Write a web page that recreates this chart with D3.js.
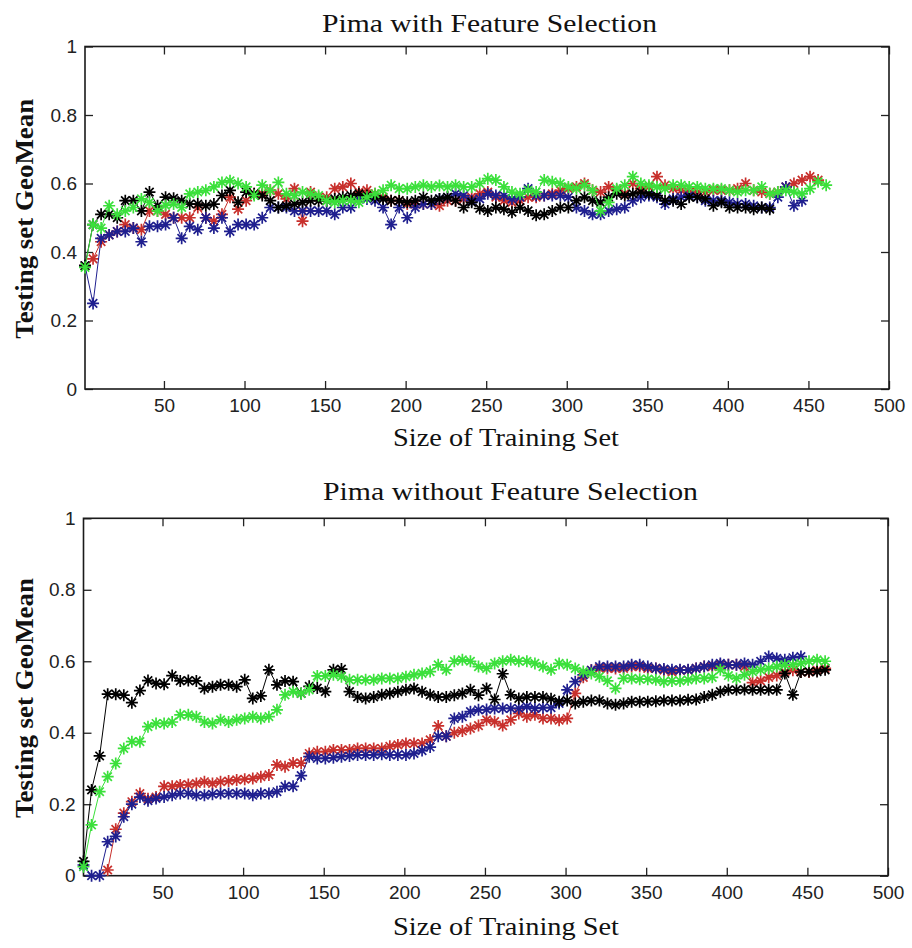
<!DOCTYPE html>
<html>
<head>
<meta charset="utf-8">
<script src="https://cdn.jsdelivr.net/npm/d3@7"></script>
<style>
  body { margin: 0; background: #fff; }
  .tick text { font-family: "Liberation Sans", Arial, sans-serif; font-size: 19px; fill: #222; }
</style>
</head>
<body>
<div id="chart"></div>
<script>
// training set sizes (x of every marker)
var trainSize = [1,6,11,16,21,26,31,36,41,46,51,56,61,66,71,76,81,86,91,96,101,106,111,116,121,126,131,136,141,146,
  151,156,161,166,171,176,181,186,191,196,201,206,211,216,221,226,231,236,241,246,251,256,261,266,271,276,281,286,291,296,
  301,306,311,316,321,326,331,336,341,346,351,356,361,366,371,376,381,386,391,396,401,406,411,416,421,426,431,436,441,446,
  451,456,461];

var xTicks = [50,100,150,200,250,300,350,400,450,500];
var yTicks = [0,0.2,0.4,0.6,0.8,1];

// Pima with Feature Selection
var fsBlue = [.36,.25,.44,.45,.46,.46,.47,.43,.475,.475,.48,.50,.44,.475,.465,.50,.47,.50,.46,.48,
  .48,.48,.50,.53,.53,.53,.52,.52,.52,.52,.52,.51,.53,.53,.555,.555,.55,.53,.48,.53,
  .50,.53,.54,.54,.555,.56,.57,.565,.55,.555,.57,.565,.565,.555,.56,.585,.565,.565,.565,.565,
  .56,.53,.52,.51,.51,.52,.525,.53,.55,.56,.565,.56,.54,.555,.56,.565,.56,.55,.55,.55,
  .545,.54,.54,.535,.53,.53,.56,.59,.535,.55];
var fsRed = [.36,.38,.43,.45,.46,.48,.47,.465,.52,.52,.51,.50,.50,.50,.53,.50,.49,.51,.56,.525,
  .55,.57,.57,.58,.57,.555,.585,.49,.575,.56,.56,.585,.59,.60,.575,.58,.57,.56,.55,.55,
  .54,.54,.54,.54,.535,.55,.55,.555,.56,.57,.575,.56,.55,.545,.55,.56,.56,.565,.57,.58,
  .585,.59,.60,.58,.575,.59,.58,.57,.60,.585,.59,.62,.595,.585,.58,.575,.575,.575,.58,.58,
  .58,.585,.60,.58,.575,.57,.575,.59,.60,.61,.62,.61];
var fsBlack = [.36,.48,.51,.51,.50,.55,.55,.52,.575,.535,.56,.557,.55,.54,.54,.535,.54,.565,.58,.545,
  .575,.57,.565,.55,.53,.535,.54,.545,.55,.55,.55,.555,.56,.565,.57,.565,.56,.555,.55,.55,
  .545,.55,.56,.55,.555,.56,.55,.53,.545,.527,.52,.53,.525,.516,.53,.52,.507,.51,.52,.53,
  .53,.55,.56,.55,.545,.56,.57,.565,.57,.575,.57,.565,.55,.55,.54,.56,.56,.555,.535,.545,
  .53,.53,.53,.525,.53,.525];
var fsGreen = [.355,.48,.47,.535,.51,.52,.53,.555,.545,.52,.536,.54,.53,.57,.575,.58,.59,.603,.608,.60,
  .59,.565,.595,.58,.603,.57,.565,.575,.57,.565,.55,.545,.55,.55,.545,.56,.57,.58,.595,.585,
  .585,.59,.595,.59,.594,.59,.595,.59,.59,.60,.614,.61,.59,.575,.57,.58,.575,.61,.605,.60,
  .59,.585,.595,.58,.52,.545,.585,.595,.62,.60,.595,.59,.585,.595,.595,.59,.59,.585,.585,.585,
  .58,.575,.58,.58,.59,.57,.575,.58,.575,.57,.585,.605,.595];

// Pima without Feature Selection
var noBlue = [.03,0,0,.095,.11,.165,.20,.22,.21,.216,.22,.225,.23,.23,.225,.225,.228,.23,.23,.23,
  .23,.225,.23,.23,.235,.25,.25,.28,.333,.328,.328,.33,.333,.335,.338,.338,.338,.34,.338,.338,
  .338,.342,.35,.36,.39,.39,.44,.445,.459,.464,.465,.468,.468,.468,.468,.473,.468,.47,.47,.482,
  .52,.543,.562,.575,.585,.585,.585,.585,.59,.59,.585,.58,.578,.576,.576,.576,.58,.585,.59,.594,
  .59,.59,.594,.59,.60,.613,.608,.604,.61,.613];
var noRed = [null,null,null,.016,.13,.175,.207,.23,.215,.22,.25,.25,.254,.255,.258,.263,.258,.263,.265,.268,
  .27,.272,.277,.282,.31,.305,.315,.315,.342,.347,.347,.352,.352,.352,.356,.356,.356,.356,.362,.366,
  .37,.37,.37,.38,.419,.39,.40,.405,.412,.42,.436,.431,.42,.436,.454,.445,.45,.44,.44,.435,
  .44,.51,.555,.575,.58,.58,.58,.58,.585,.585,.58,.58,.575,.57,.575,.575,.58,.585,.585,.59,
  .59,.59,.585,.54,.545,.555,.56,.57,.575,.57,.57,.575,.58];
var noBlack = [.04,.24,.335,.508,.508,.505,.484,.518,.546,.538,.536,.56,.545,.546,.545,.524,.529,.534,.534,.529,
  .548,.496,.503,.576,.534,.545,.543,.51,.53,.525,.515,.576,.578,.515,.50,.496,.50,.506,.51,.515,
  .52,.524,.515,.506,.50,.50,.505,.51,.52,.505,.524,.493,.565,.506,.496,.50,.50,.50,.495,.487,
  .49,.482,.487,.49,.49,.482,.478,.482,.487,.487,.487,.488,.49,.49,.49,.492,.493,.50,.506,.515,
  .52,.52,.521,.52,.52,.52,.52,.566,.506,.57,.571,.571,.576];
var noGreen = [.025,.142,.235,.277,.314,.356,.375,.375,.417,.426,.426,.43,.45,.45,.445,.43,.426,.436,.43,.436,
  .44,.445,.44,.445,.464,.506,.515,.51,.52,.559,.559,.562,.557,.548,.548,.548,.548,.552,.552,.552,
  .557,.562,.566,.571,.59,.576,.60,.604,.60,.585,.58,.594,.60,.604,.60,.60,.594,.585,.576,.594,
  .59,.58,.571,.566,.557,.545,.524,.552,.552,.55,.55,.548,.543,.545,.545,.548,.552,.552,.555,.576,
  .56,.552,.562,.571,.576,.58,.585,.59,.59,.594,.60,.604,.60];

var colors = { blue: "#1f1f8f", red: "#c8302c", black: "#000000", green: "#3be03b" };

var panels = [
  { title: "Pima with Feature Selection", titleX: 322, titleLen: 335, titleY: 32,
    left: 85, right: 889, top: 46.5, bottom: 389, xLabelY: 446,
    series: [[fsRed, colors.red], [fsBlue, colors.blue], [fsBlack, colors.black], [fsGreen, colors.green]] },
  { title: "Pima without Feature Selection", titleX: 323, titleLen: 375, titleY: 500,
    left: 83.5, right: 888, top: 518.3, bottom: 875.7, xLabelY: 935,
    series: [[noRed, colors.red], [noBlue, colors.blue], [noBlack, colors.black], [noGreen, colors.green]] }
];

var svg = d3.select("#chart").append("svg")
  .attr("width", 912)
  .attr("height", 948)
  .style("background", "#fff");

var serif = "'Liberation Serif', 'Times New Roman', serif";
// MATLAB style '*' marker
var star = "M-6,0H6M0,-6V6M-4.2,-4.2L4.2,4.2M-4.2,4.2L4.2,-4.2";

panels.forEach(function (p) {
  var x = d3.scaleLinear().domain([1, 500]).range([p.left, p.right]);
  var y = d3.scaleLinear().domain([0, 1]).range([p.bottom, p.top]);

  // axes, ticks pointing inwards on all four sides
  var g = svg.append("g");
  g.append("g")
    .attr("transform", "translate(0," + p.bottom + ")")
    .call(d3.axisBottom(x).tickValues(xTicks).tickSizeInner(-8).tickSizeOuter(0).tickPadding(10));
  g.append("g")
    .attr("transform", "translate(0," + p.top + ")")
    .call(d3.axisTop(x).tickValues(xTicks).tickSizeInner(-8).tickSizeOuter(0).tickFormat(""));
  g.append("g")
    .attr("transform", "translate(" + p.left + ",0)")
    .call(d3.axisLeft(y).tickValues(yTicks).tickSizeInner(-8).tickSizeOuter(0).tickPadding(8).tickFormat(d3.format("~g")));
  g.append("g")
    .attr("transform", "translate(" + p.right + ",0)")
    .call(d3.axisRight(y).tickValues(yTicks).tickSizeInner(-8).tickSizeOuter(0).tickFormat(""));
  g.selectAll(".domain").remove();
  g.selectAll(".tick line").attr("stroke", "#222").attr("stroke-width", 1.3);

  svg.append("rect")
    .attr("x", p.left).attr("y", p.top)
    .attr("width", p.right - p.left).attr("height", p.bottom - p.top)
    .attr("fill", "none").attr("stroke", "#1a1a1a").attr("stroke-width", 1.6);

  // series: thin line plus asterisk markers
  p.series.forEach(function (s) {
    var vals = s[0], col = s[1];
    var pts = vals.map(function (v, i) { return { x: trainSize[i], v: v }; })
      .filter(function (d) { return d.v !== null; });

    svg.append("path")
      .datum(pts)
      .attr("fill", "none")
      .attr("stroke", col)
      .attr("stroke-width", 1)
      .attr("d", d3.line().x(function (d) { return x(d.x); }).y(function (d) { return y(d.v); }));

    svg.append("g").selectAll("path")
      .data(pts)
      .join("path")
      .attr("transform", function (d) { return "translate(" + x(d.x) + "," + y(d.v) + ")"; })
      .attr("d", star)
      .attr("stroke", col)
      .attr("stroke-width", 1.7)
      .attr("fill", "none");
  });

  svg.append("text")
    .attr("x", p.titleX).attr("y", p.titleY)
    .attr("textLength", p.titleLen).attr("lengthAdjust", "spacingAndGlyphs")
    .style("font-family", serif).style("font-size", "26px").style("fill", "#111")
    .text(p.title);

  svg.append("text")
    .attr("x", 393).attr("y", p.xLabelY)
    .attr("textLength", 226).attr("lengthAdjust", "spacingAndGlyphs")
    .style("font-family", serif).style("font-size", "26px").style("fill", "#111")
    .text("Size of Training Set");

  var cy = (p.top + p.bottom) / 2 + 1;
  svg.append("text")
    .attr("transform", "translate(33," + cy + ") rotate(-90)")
    .attr("text-anchor", "middle")
    .attr("textLength", 240).attr("lengthAdjust", "spacingAndGlyphs")
    .style("font-family", serif).style("font-size", "26px").style("font-weight", "bold").style("fill", "#111")
    .text("Testing set GeoMean");
});
</script>
</body>
</html>
